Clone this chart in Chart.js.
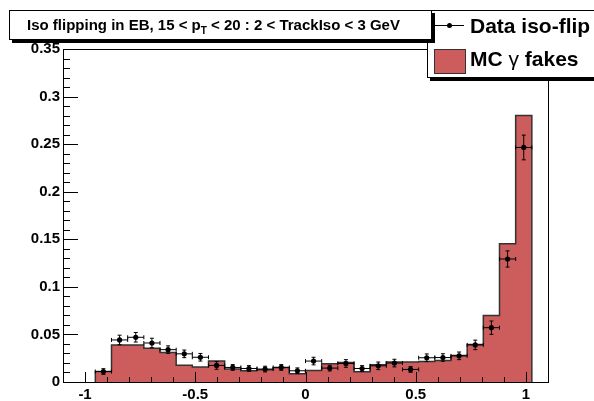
<!DOCTYPE html>
<html>
<head>
<meta charset="utf-8">
<script src="https://cdn.jsdelivr.net/npm/chart.js@4/dist/chart.umd.min.js"></script>
<style>
  html, body { margin: 0; padding: 0; background: #fff; overflow: hidden; }
  #wrap { position: relative; width: 594px; height: 401px; overflow: hidden; font-family: 'Liberation Sans', Arial, Helvetica, sans-serif; }
  #chart { position: absolute; left: 0; top: 0; }
  #title {
    position: absolute; left: 9px; top: 10px; width: 423px; height: 30px; box-sizing: border-box; padding-left: 17px;
    border: 1px solid #000; background: #fff; box-shadow: 3px 3px 0 #000;
    font-weight: bold; font-size: 15px; line-height: 27px; text-align: left; z-index: 3; white-space: nowrap;
  }
  #title sub { font-size: 10px; vertical-align: -4px; line-height: 0; }
  #legend {
    position: absolute; left: 427px; top: 10px; width: 200px; height: 66px;
    border: 1px solid #000; background: #fff; box-shadow: 3px 3px 0 #000; z-index: 2;
  }
  .lg-text { position: absolute; left: 42px; font-weight: bold; font-size: 21px; white-space: nowrap; line-height: 24px; }
  .lg-line { position: absolute; left: 7px; top: 14px; width: 29px; height: 1px; background: #000; }
  .lg-dot { position: absolute; left: 19px; top: 12px; width: 5px; height: 5px; border-radius: 50%; background: #000; }
  .lg-box { position: absolute; left: 6px; top: 38px; width: 30px; height: 23px; background: #cd5c5c; border: 1px solid #333; }
  .gam { font-weight: normal; }
</style>
</head>
<body>
<div id="wrap">
  <canvas id="chart" width="594" height="401"></canvas>
  <div id="legend">
    <div class="lg-line"></div><div class="lg-dot"></div>
    <div class="lg-text" style="top:3px">Data iso-flip</div>
    <div class="lg-box"></div>
    <div class="lg-text" style="top:36px">MC <span class="gam">γ</span> fakes</div>
  </div>
  <div id="title">Iso flipping in EB, 15 &lt; p<sub>T</sub> &lt; 20 : 2 &lt; TrackIso &lt; 3 GeV</div>
</div>
<script>
// bin centres (30 bins over -1.1 .. 1.1, only filled ones listed)
const binCenters = [-0.9167, -0.8433, -0.77, -0.6967, -0.6233, -0.55, -0.4767, -0.4033, -0.33,
  -0.2567, -0.1833, -0.11, -0.0367, 0.0367, 0.11, 0.1833, 0.2567, 0.33, 0.4033, 0.4767,
  0.55, 0.6233, 0.6967, 0.77, 0.8433, 0.9167, 0.99];
const binHalfWidth = 0.03667;

const mcFakes = [0.011, 0.039, 0.039, 0.0355, 0.031, 0.0175, 0.0157, 0.022, 0.0136,
  0.0118, 0.0129, 0.0153, 0.0087, 0.0122, 0.0191, 0.0205, 0.0108, 0.018, 0.0209, 0.0209,
  0.0215, 0.0226, 0.0278, 0.0393, 0.070, 0.1454, 0.280];

const dataIso = [0.011, 0.0442, 0.047, 0.041, 0.034, 0.0296, 0.026, 0.0174, 0.0153,
  0.0142, 0.0136, 0.0153, 0.0118, 0.022, 0.0146, 0.0195, 0.0142, 0.017, 0.0199, 0.0132,
  0.0255, 0.0257, 0.0275, 0.039, 0.0571, 0.1293, 0.2465];

const dataErr = [0.003, 0.005, 0.005, 0.005, 0.004, 0.004, 0.004, 0.004, 0.003,
  0.003, 0.003, 0.003, 0.003, 0.004, 0.003, 0.004, 0.003, 0.004, 0.004, 0.003,
  0.004, 0.004, 0.004, 0.005, 0.007, 0.0085, 0.013];

const xTickValues = [-1, -0.5, 0, 0.5, 1];
const xTickLabels = ['-1', '-0.5', '0', '0.5', '1'];
const yTickValues = [0, 0.05, 0.1, 0.15, 0.2, 0.25, 0.3, 0.35];
const yTickLabels = ['0', '0.05', '0.1', '0.15', '0.2', '0.25', '0.3', '0.35'];

// step outline: start at 0, one point per bin left edge, close back to 0
const mcSteps = [{ x: binCenters[0] - binHalfWidth, y: 0 }];
binCenters.forEach((c, i) => mcSteps.push({ x: c - binHalfWidth, y: mcFakes[i] }));
mcSteps.push({ x: binCenters[binCenters.length - 1] + binHalfWidth, y: 0 });

const dataPoints = binCenters.map((c, i) => ({ x: c, y: dataIso[i] }));

const fontFamily = "'Liberation Sans', Arial, Helvetica, sans-serif";

// frame, inner ticks and error bars, ROOT style
const rootStyle = {
  id: 'rootStyle',
  afterDatasetsDraw(chart) {
    const ctx = chart.ctx;
    const xs = chart.scales.x, ys = chart.scales.y;
    const a = chart.chartArea;
    ctx.save();
    ctx.strokeStyle = '#000';
    ctx.lineWidth = 1;
    // error bars
    binCenters.forEach((c, i) => {
      const px = xs.getPixelForValue(c);
      const py = ys.getPixelForValue(dataIso[i]);
      const x0 = xs.getPixelForValue(c - binHalfWidth), x1 = xs.getPixelForValue(c + binHalfWidth);
      const y0 = ys.getPixelForValue(dataIso[i] - dataErr[i]), y1 = ys.getPixelForValue(dataIso[i] + dataErr[i]);
      ctx.beginPath();
      ctx.moveTo(x0, py); ctx.lineTo(x1, py);
      ctx.moveTo(x0, py - 2); ctx.lineTo(x0, py + 2);
      ctx.moveTo(x1, py - 2); ctx.lineTo(x1, py + 2);
      ctx.moveTo(px, y0); ctx.lineTo(px, y1);
      ctx.moveTo(px - 2, y0); ctx.lineTo(px + 2, y0);
      ctx.moveTo(px - 2, y1); ctx.lineTo(px + 2, y1);
      ctx.stroke();
    });
    // frame
    ctx.strokeRect(Math.round(a.left) + 0.5, Math.round(a.top) + 0.5, Math.round(a.right - a.left), Math.round(a.bottom - a.top));
    // x ticks
    ctx.beginPath();
    for (let k = -10; k <= 10; k++) {
      const v = k / 10;
      const px = Math.round(xs.getPixelForValue(v)) + 0.5;
      const len = (k % 5 === 0) ? 10 : 5;
      ctx.moveTo(px, a.bottom); ctx.lineTo(px, a.bottom - len);
    }
    // y ticks
    for (let k = 0; k <= 35; k++) {
      const v = k / 100;
      const py = Math.round(ys.getPixelForValue(v)) + 0.5;
      const len = (k % 5 === 0) ? 15 : 7;
      ctx.moveTo(a.left, py); ctx.lineTo(a.left + len, py);
    }
    ctx.stroke();
    ctx.restore();
  }
};

new Chart(document.getElementById('chart').getContext('2d'), {
  type: 'scatter',
  data: {
    datasets: [
      {
        label: 'Data iso-flip', data: dataPoints, order: 0,
        pointRadius: 2.6, pointBackgroundColor: '#000', pointBorderColor: '#000', pointBorderWidth: 0, showLine: false
      },
      {
        type: 'line', label: 'MC fakes', data: mcSteps, order: 1,
        stepped: true, fill: 'origin', backgroundColor: '#cd5c5c', borderColor: '#333', borderWidth: 1.5,
        pointRadius: 0, tension: 0
      }
    ]
  },
  options: {
    responsive: false,
    animation: false,
    layout: { padding: { top: 49, right: 46, left: 0, bottom: 0 } },
    plugins: { legend: { display: false }, title: { display: false }, tooltip: { enabled: false } },
    scales: {
      x: {
        type: 'linear', min: -1.1, max: 1.1,
        grid: { display: false, drawTicks: false }, border: { display: false },
        afterBuildTicks: s => { s.ticks = xTickValues.map(v => ({ value: v })); },
        afterFit: s => { s.height = 19; },
        ticks: { padding: 4, color: '#000', font: { family: fontFamily, size: 15, weight: 'bold' }, maxRotation: 0,
          callback: (v, i) => xTickLabels[i] }
      },
      y: {
        type: 'linear', min: 0, max: 0.35,
        grid: { display: false, drawTicks: false }, border: { display: false },
        afterBuildTicks: s => { s.ticks = yTickValues.map(v => ({ value: v })); },
        afterFit: s => { s.width = 63; },
        ticks: { padding: 3, color: '#000', font: { family: fontFamily, size: 15, weight: 'bold' },
          callback: (v, i) => yTickLabels[i] }
      }
    }
  },
  plugins: [rootStyle]
});
</script>
</body>
</html>
